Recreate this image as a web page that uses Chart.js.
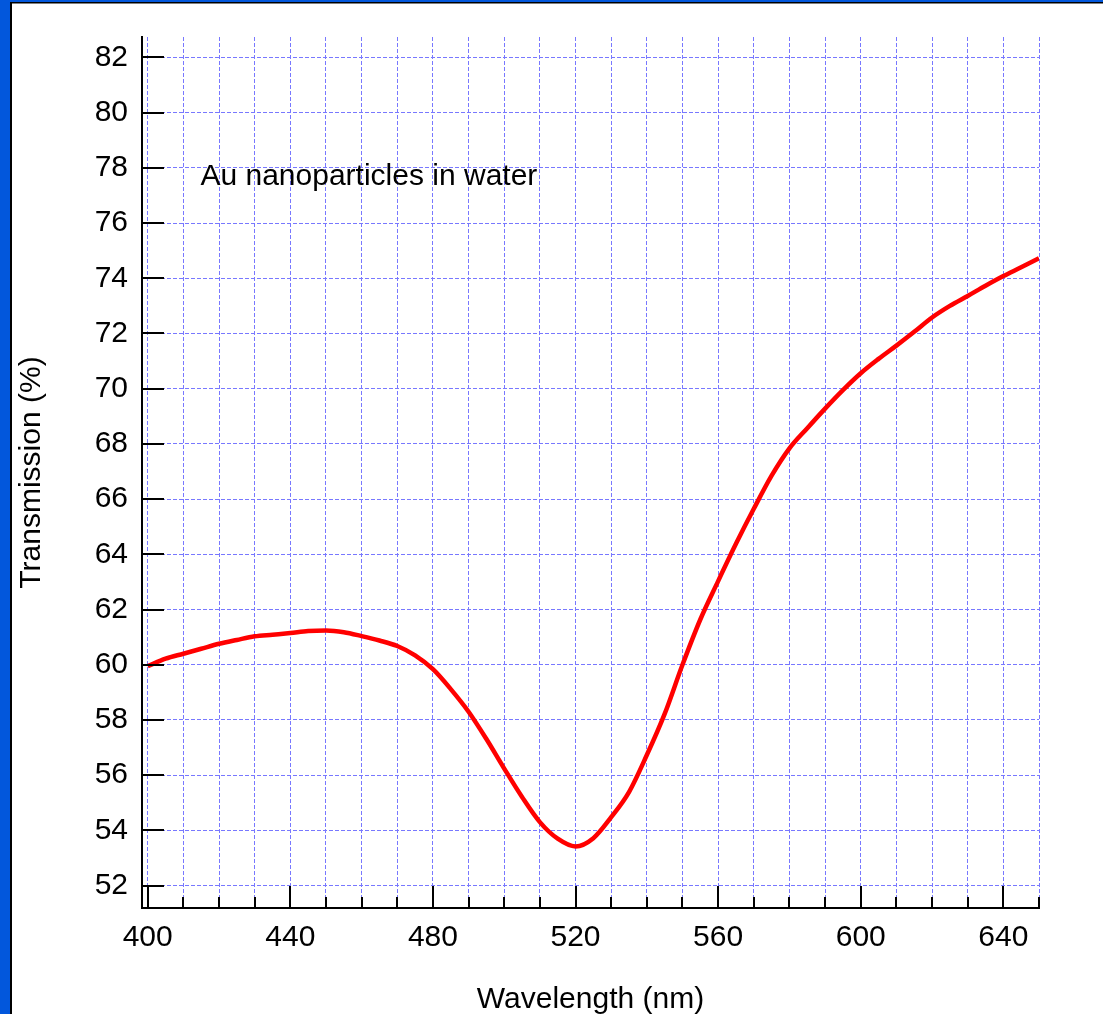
<!DOCTYPE html>
<html>
<head>
<meta charset="utf-8">
<script src="https://cdn.jsdelivr.net/npm/chart.js@4"></script>
<style>
  html, body { margin: 0; padding: 0; background: #ffffff; }
  canvas { display: block; }
</style>
</head>
<body>
<canvas id="c" width="1103" height="1014"></canvas>
<script>
// ---- Data ----
const wavelengths = [400,405,410,415,420,425,430,435,440,445,450,455,460,465,470,475,480,485,490,495,
  500,505,510,515,520,525,530,535,540,545,550,555,560,565,570,575,580,585,590,595,
  600,605,610,615,620,625,630,635,640,645,650];
const transmission = [59.95,60.22,60.40,60.58,60.76,60.90,61.03,61.09,61.15,61.22,61.24,61.18,61.04,60.88,60.68,60.34,59.84,59.12,58.30,57.31,
  56.24,55.21,54.30,53.70,53.42,53.72,54.48,55.39,56.73,58.22,60.00,61.64,63.03,64.38,65.65,66.85,67.84,68.57,69.28,69.95,
  70.56,71.08,71.56,72.06,72.58,73.00,73.36,73.73,74.08,74.40,74.73];
const xTickLabels = [400,440,480,520,560,600,640];
const yTickValues = [52,54,56,58,60,62,64,66,68,70,72,74,76,78,80,82];
const xGridValues = [400,410,420,430,440,450,460,470,480,490,500,510,520,530,540,550,560,570,580,590,600,610,620,630,640,650];
const seriesLabel = 'Au nanoparticles in water';
const xTitle = 'Wavelength (nm)';
const yTitle = 'Transmission (%)';
const annotationPos = { x: 414.8, y: 77.37 };

const FONT = "'Liberation Sans', Arial, sans-serif";

const framePlugin = {
  id: 'frame',
  beforeDraw(chart) {
    const ctx = chart.ctx;
    ctx.save();
    ctx.fillStyle = '#0257dc';
    ctx.fillRect(0, 0, chart.width, chart.height);
    ctx.fillStyle = '#000000';
    ctx.fillRect(10, 2, chart.width - 10, chart.height - 2);
    ctx.fillStyle = '#ffffff';
    ctx.fillRect(12, 3.5, chart.width - 12, chart.height - 3.5);
    ctx.restore();
  },
  afterDraw(chart) {
    const ctx = chart.ctx;
    const xs = chart.scales.x, ys = chart.scales.y;
    const area = chart.chartArea;
    ctx.save();
    ctx.strokeStyle = '#000000';
    ctx.lineWidth = 2;
    ctx.beginPath();
    xGridValues.forEach(v => {
      const px = Math.round(xs.getPixelForValue(v));
      const len = xTickLabels.includes(v) ? 22 : 11;
      ctx.moveTo(px, area.bottom);
      ctx.lineTo(px, area.bottom - len);
    });
    yTickValues.forEach(v => {
      const py = Math.round(ys.getPixelForValue(v));
      ctx.moveTo(area.left, py);
      ctx.lineTo(area.left + 22, py);
    });
    ctx.stroke();
    // annotation text
    ctx.fillStyle = '#000000';
    ctx.font = '30px ' + FONT;
    ctx.textAlign = 'left';
    ctx.textBaseline = 'alphabetic';
    ctx.fillText(seriesLabel, xs.getPixelForValue(annotationPos.x), ys.getPixelForValue(annotationPos.y));
    ctx.restore();
  }
};

new Chart(document.getElementById('c'), {
  type: 'line',
  data: {
    datasets: [{
      label: seriesLabel,
      data: wavelengths.map((w, i) => ({ x: w, y: transmission[i] })),
      borderColor: '#ff0000',
      borderWidth: 4.5,
      pointRadius: 0,
      cubicInterpolationMode: 'monotone',
      fill: false
    }]
  },
  options: {
    responsive: false,
    devicePixelRatio: 1,
    animation: false,
    layout: { padding: { left: 12, top: 37, right: 64, bottom: 0 } },
    plugins: { legend: { display: false }, tooltip: { enabled: false } },
    scales: {
      x: {
        type: 'linear',
        min: 398.4,
        max: 650,
        afterBuildTicks(scale) { scale.ticks = xGridValues.map(v => ({ value: v })); },
        afterFit(scale) { scale.height = 106; },
        ticks: {
          autoSkip: false,
          maxRotation: 0,
          padding: 12,
          color: '#000000',
          font: { family: FONT, size: 30 },
          callback: v => (xTickLabels.includes(v) ? String(v) : '')
        },
        grid: { color: '#7878ff', lineWidth: 1, drawTicks: false },
        border: { display: true, color: '#000000', width: 2, dash: [4, 2] },
        title: { display: true, text: xTitle, color: '#000000', font: { family: FONT, size: 30 }, padding: { top: 0, bottom: -4 } }
      },
      y: {
        type: 'linear',
        min: 51.19,
        max: 82.74,
        afterBuildTicks(scale) { scale.ticks = yTickValues.map(v => ({ value: v })); },
        afterFit(scale) { scale.width = 130; },
        ticks: {
          autoSkip: false,
          padding: 14,
          color: '#000000',
          font: { family: FONT, size: 30 },
          callback: v => String(v)
        },
        grid: { color: '#7878ff', lineWidth: 1, drawTicks: false },
        border: { display: true, color: '#000000', width: 2, dash: [4, 2] },
        title: { display: true, text: yTitle, color: '#000000', font: { family: FONT, size: 30 }, padding: { top: 2, bottom: 0 } }
      }
    }
  },
  plugins: [framePlugin]
});
</script>
</body>
</html>
